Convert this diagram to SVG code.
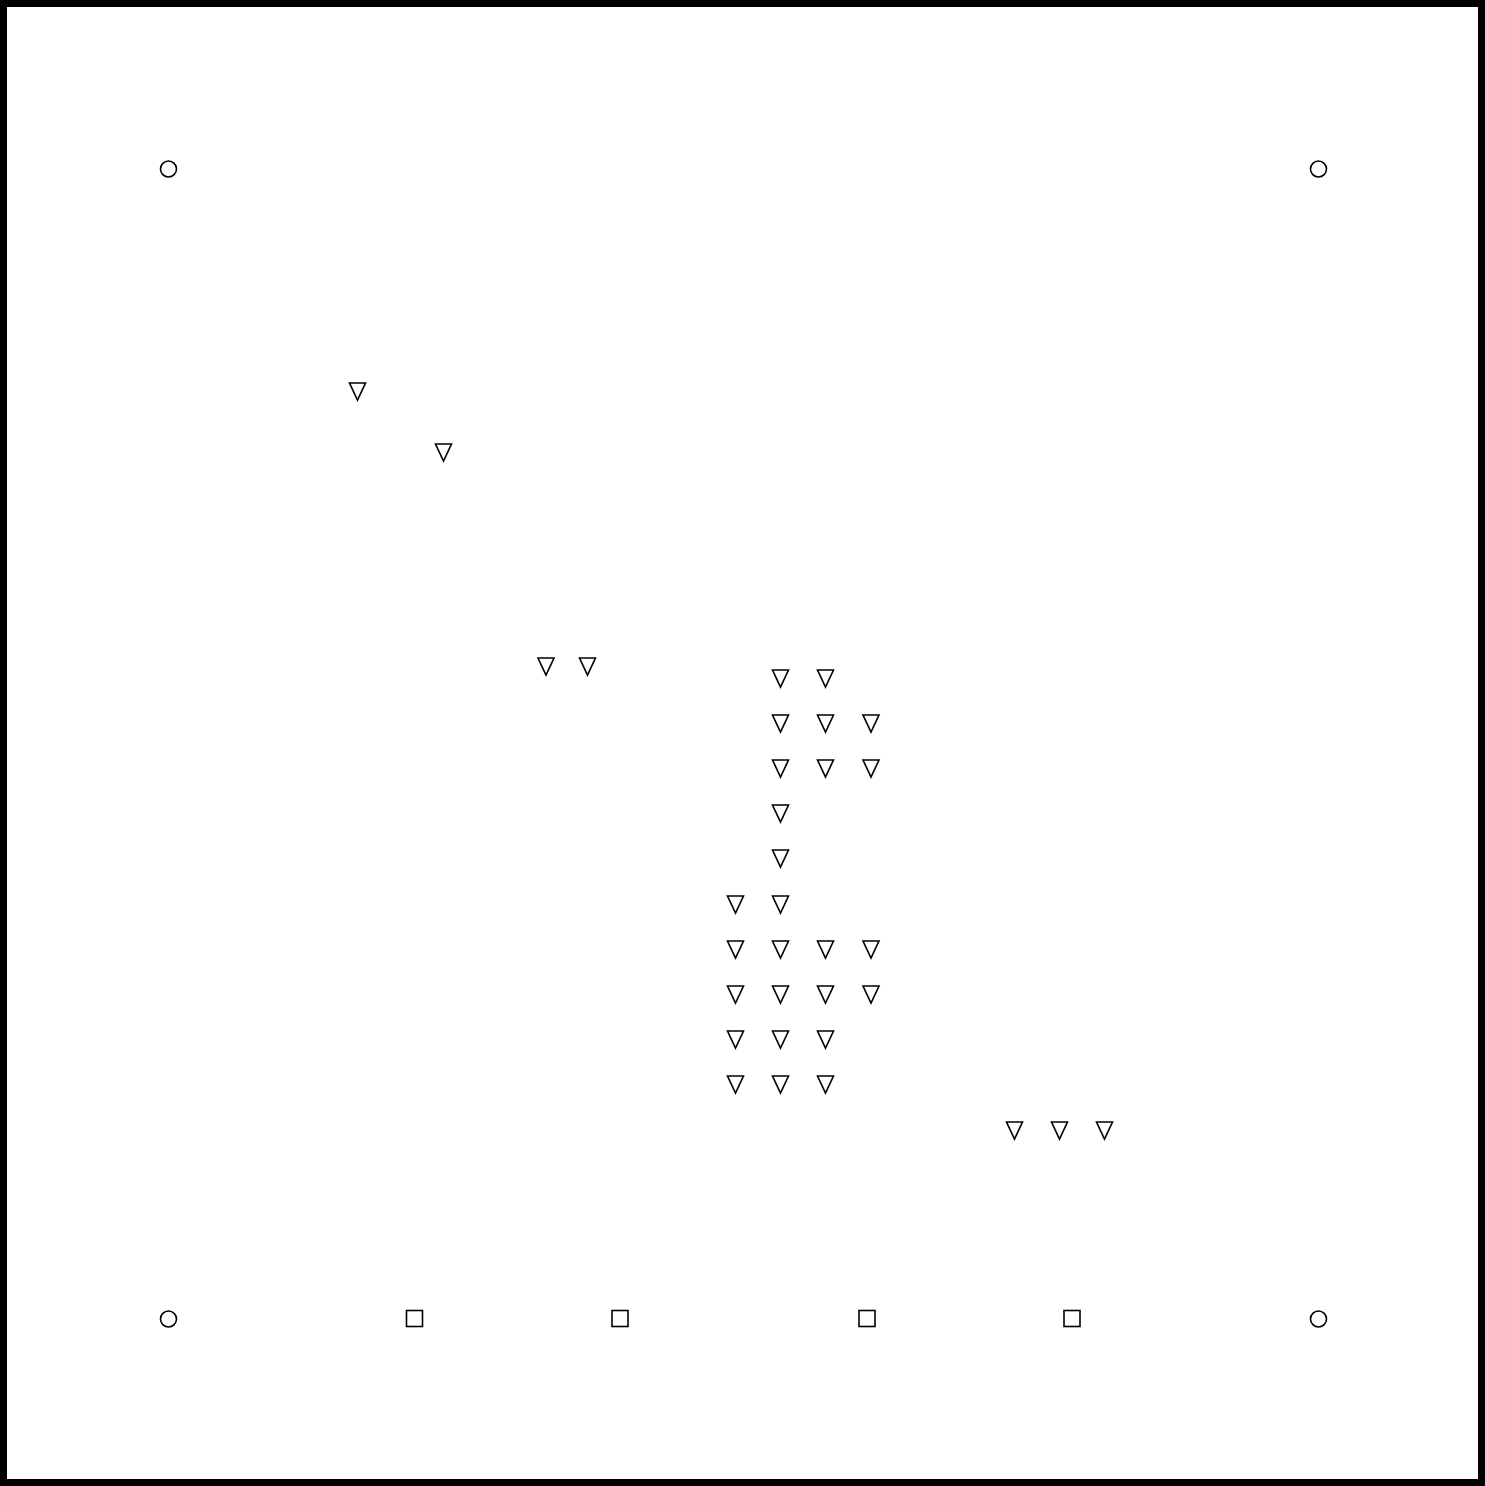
<svg xmlns="http://www.w3.org/2000/svg" xmlns:xlink="http://www.w3.org/1999/xlink" width="1485" height="1486" viewBox="0 0 1485 1486">
<style>
.sym{fill:#fff;stroke:#000;stroke-width:1.6}
</style>
<defs>
<path id="tri" class="sym" d="M-8,-8 L8,-8 L0,9 Z"/>
<circle id="circ" class="sym" r="8"/>
<rect id="sq" class="sym" x="-8" y="-8" width="16" height="16"/>
</defs>
<rect x="3.5" y="3.5" width="1478" height="1479" fill="#fff" stroke="#000" stroke-width="7"/>
<g id="circles">
<g id="c1"><use xlink:href="#circ" x="168.5" y="169"/></g>
<g id="c2"><use xlink:href="#circ" x="1318.5" y="169"/></g>
<g id="c3"><use xlink:href="#circ" x="168.5" y="1319"/></g>
<g id="c4"><use xlink:href="#circ" x="1318.5" y="1319"/></g>
</g>
<g id="squares">
<g id="s1"><use xlink:href="#sq" x="414.5" y="1318.5"/></g>
<g id="s2"><use xlink:href="#sq" x="620" y="1318.5"/></g>
<g id="s3"><use xlink:href="#sq" x="867" y="1318.5"/></g>
<g id="s4"><use xlink:href="#sq" x="1072" y="1318.5"/></g>
</g>
<g id="triangles">
<g id="t1"><use xlink:href="#tri" x="357.5" y="391"/></g>
<g id="t2"><use xlink:href="#tri" x="443.5" y="452"/></g>
<g id="t3"><use xlink:href="#tri" x="546" y="666"/></g>
<g id="t4"><use xlink:href="#tri" x="587.5" y="666"/></g>
<g id="t5"><use xlink:href="#tri" x="780.5" y="678"/></g>
<g id="t6"><use xlink:href="#tri" x="825.5" y="678"/></g>
<g id="t7"><use xlink:href="#tri" x="780.5" y="723"/></g>
<g id="t8"><use xlink:href="#tri" x="825.5" y="723"/></g>
<g id="t9"><use xlink:href="#tri" x="871" y="723"/></g>
<g id="t10"><use xlink:href="#tri" x="780.5" y="768"/></g>
<g id="t11"><use xlink:href="#tri" x="825.5" y="768"/></g>
<g id="t12"><use xlink:href="#tri" x="871" y="768"/></g>
<g id="t13"><use xlink:href="#tri" x="780.5" y="813"/></g>
<g id="t14"><use xlink:href="#tri" x="780.5" y="858"/></g>
<g id="t15"><use xlink:href="#tri" x="735.5" y="904"/></g>
<g id="t16"><use xlink:href="#tri" x="780.5" y="904"/></g>
<g id="t17"><use xlink:href="#tri" x="735.5" y="949"/></g>
<g id="t18"><use xlink:href="#tri" x="780.5" y="949"/></g>
<g id="t19"><use xlink:href="#tri" x="825.5" y="949"/></g>
<g id="t20"><use xlink:href="#tri" x="871" y="949"/></g>
<g id="t21"><use xlink:href="#tri" x="735.5" y="994"/></g>
<g id="t22"><use xlink:href="#tri" x="780.5" y="994"/></g>
<g id="t23"><use xlink:href="#tri" x="825.5" y="994"/></g>
<g id="t24"><use xlink:href="#tri" x="871" y="994"/></g>
<g id="t25"><use xlink:href="#tri" x="735.5" y="1039"/></g>
<g id="t26"><use xlink:href="#tri" x="780.5" y="1039"/></g>
<g id="t27"><use xlink:href="#tri" x="825.5" y="1039"/></g>
<g id="t28"><use xlink:href="#tri" x="735.5" y="1084"/></g>
<g id="t29"><use xlink:href="#tri" x="780.5" y="1084"/></g>
<g id="t30"><use xlink:href="#tri" x="825.5" y="1084"/></g>
<g id="t31"><use xlink:href="#tri" x="1014.5" y="1130"/></g>
<g id="t32"><use xlink:href="#tri" x="1059.5" y="1130"/></g>
<g id="t33"><use xlink:href="#tri" x="1104.5" y="1130"/></g>
</g>
<g id="connectors"/>
</svg>
